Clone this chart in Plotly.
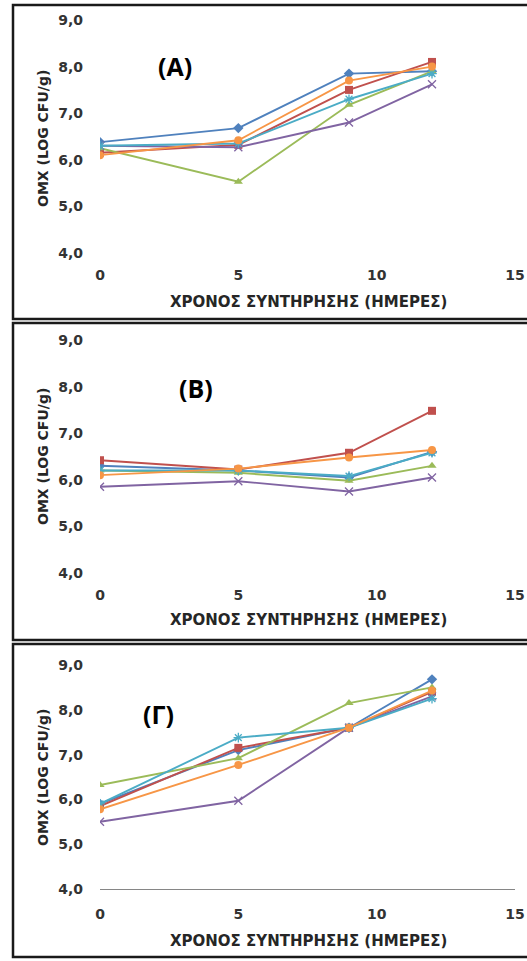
import plotly.graph_objects as go

days = [0, 5, 9, 12]

series_names = ["1", "2", "3", "4", "5", "6"]
colors = ["#4F81BD", "#C0504D", "#9BBB59", "#8064A2", "#4BACC6", "#F79646"]
symbols = ["diamond", "square", "triangle-up", "x-thin-open", "asterisk-open", "circle"]

A_blue = [6.38, 6.68, 7.85, 7.90]
A_red = [6.15, 6.32, 7.50, 8.10]
A_green = [6.25, 5.53, 7.18, 7.90]
A_purple = [6.30, 6.27, 6.80, 7.62]
A_teal = [6.30, 6.35, 7.30, 7.85]
A_orange = [6.10, 6.42, 7.70, 8.00]

B_blue = [6.30, 6.20, 6.05, 6.60]
B_red = [6.42, 6.22, 6.58, 7.48]
B_green = [6.20, 6.15, 5.98, 6.30]
B_purple = [5.85, 5.97, 5.75, 6.05]
B_teal = [6.20, 6.20, 6.08, 6.58]
B_orange = [6.10, 6.24, 6.48, 6.64]

C_blue = [5.90, 7.10, 7.60, 8.68]
C_red = [5.85, 7.15, 7.60, 8.40]
C_green = [6.32, 6.92, 8.15, 8.50]
C_purple = [5.50, 5.97, 7.60, 8.30]
C_teal = [5.90, 7.38, 7.60, 8.25]
C_orange = [5.78, 6.77, 7.60, 8.43]

panels = [
    ("(A)", [A_blue, A_red, A_green, A_purple, A_teal, A_orange]),
    ("(B)", [B_blue, B_red, B_green, B_purple, B_teal, B_orange]),
    ("(Γ)", [C_blue, C_red, C_green, C_purple, C_teal, C_orange]),
]

x_ticks = [0, 5, 10, 15]
y_ticks = [4, 5, 6, 7, 8, 9]
x_title = "ΧΡΟΝΟΣ ΣΥΝΤΗΡΗΣΗΣ (ΗΜΕΡΕΣ)"
y_title = "ΟΜΧ (LOG CFU/g)"

W, H = 527, 961
def py(p):
    return 1 - p / H
def px(p):
    return p / W

# pixel geometry of each panel: (y of 9.0, y of 4.0, border top, border bottom, label x, label y)
geom = [
    (20, 253, 5, 319, 175, 66),
    (340, 573, 323, 640, 196, 388),
    (665, 889, 644, 957, 158, 714),
]

fig = go.Figure()
font_family = "DejaVu Sans"
tick_font = dict(family=font_family, size=14, color="#333333", weight="bold")

shapes = []
annotations = []
for i, (label, data) in enumerate(panels):
    ax = "" if i == 0 else str(i + 1)
    for j, vals in enumerate(data):
        sym = symbols[j]
        open_sym = sym.endswith("open")
        fig.add_trace(go.Scatter(
            x=days, y=vals, mode="lines+markers", name=series_names[j],
            xaxis="x" + ax, yaxis="y" + ax, showlegend=False,
            line=dict(color=colors[j], width=1.9),
            marker=dict(symbol=sym, size=8, color=colors[j],
                        line=dict(color=colors[j], width=1.3 if open_sym else 0)),
        ))
    y9, y4, bt, bb, lx, ly = geom[i]
    fig.update_layout({
        "xaxis" + ax: dict(domain=[px(100), px(515)], range=[0, 15], tickvals=x_ticks,
                           tickformat="d", showgrid=False, zeroline=False,
                           showline=(i == 2), linecolor="#868686", linewidth=1,
                           ticks="", ticklabelstandoff=12, tickfont=tick_font,
                           ticklabeloverflow="allow", automargin=False, anchor="y" + ax),
        "yaxis" + ax: dict(domain=[py(y4), py(y9)], range=[4, 9], tickvals=y_ticks,
                           tickformat=".1f", showgrid=False, zeroline=False,
                           showline=False, ticks="", ticklabelstandoff=16,
                           tickfont=tick_font, automargin=False, anchor="x" + ax),
    })
    shapes.append(dict(type="rect", xref="paper", yref="paper",
                       x0=px(13), x1=px(540), y0=py(bb), y1=py(bt),
                       line=dict(color="#1a1a1a", width=2.5), fillcolor="rgba(0,0,0,0)"))
    annotations.append(dict(text=label, xref="paper", yref="paper", x=px(lx), y=py(ly),
                            showarrow=False, xanchor="center", yanchor="middle",
                            font=dict(family="Open Sans", size=25, color="black", weight="bold")))
    annotations.append(dict(text=x_title, xref="paper", yref="paper", x=px(308), y=py(bt + 297),
                            showarrow=False, xanchor="center", yanchor="middle",
                            font=dict(family=font_family, size=15, color="#262626", weight="bold")))
    annotations.append(dict(text=y_title, xref="paper", yref="paper", x=px(43), y=py(bt + 134),
                            showarrow=False, xanchor="center", yanchor="middle", textangle=-90,
                            font=dict(family=font_family, size=14, color="#262626", weight="bold")))

fig.update_layout(
    width=W, height=H, margin=dict(l=0, r=0, t=0, b=0),
    paper_bgcolor="white", plot_bgcolor="white",
    separators=",.", shapes=shapes, annotations=annotations,
)

fig.write_html("out.html")
